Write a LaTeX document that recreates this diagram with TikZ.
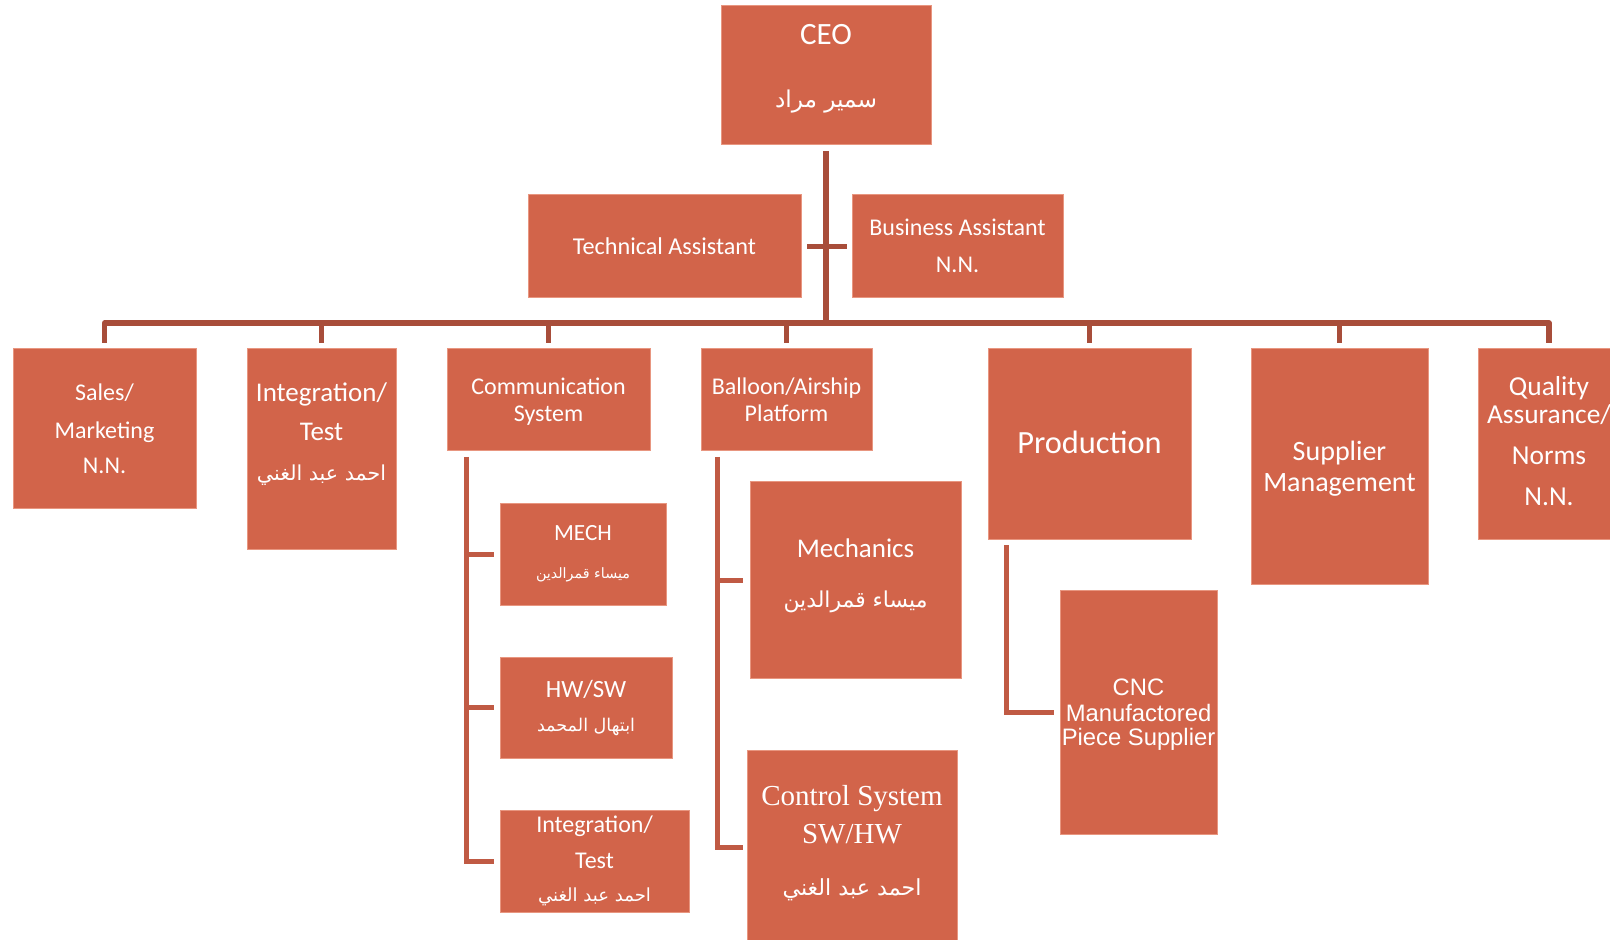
\documentclass[tikz,border=0pt]{standalone}
\usepackage{fontspec}
\setmainfont{Carlito}
\newfontfamily\arabicfont[Script=Arabic]{DejaVu Sans}
\newfontfamily\seriffont{Liberation Serif}
\newfontfamily\arialfont{Liberation Sans}
\TeXXeTstate=1
\definecolor{boxfill}{RGB}{210,100,74}
\definecolor{boxedge}{RGB}{232,150,128}
\definecolor{topline}{RGB}{168,77,58}
\definecolor{subline}{RGB}{192,90,68}
\newcommand{\fs}[1]{\fontsize{#1}{#1}\selectfont}
\tikzset{
  orgbox/.style={fill=boxfill, draw=boxedge, line width=0.5pt, inner sep=0pt, outer sep=0pt},
  lbl/.style={text=white, inner sep=0pt, outer sep=0pt, anchor=base},
  arlbl/.style={text=white, inner sep=0pt, outer sep=0pt, anchor=center},
  mainconn/.style={draw=topline, line width=2.6pt},
  subconn/.style={draw=subline, line width=2.5pt},
}
\begin{document}
\begin{tikzpicture}[x=0.5pt,y=-0.5pt]
\useasboundingbox (0,0) rectangle (1610,940);
% ---------- boxes ----------
\node[orgbox, minimum width=105pt, minimum height=69.5pt] (ceo) at (826,75.5) {};
\node[orgbox, minimum width=136.5pt, minimum height=51.5pt] (tech) at (664.5,246.5) {};
\node[orgbox, minimum width=105.5pt, minimum height=51.5pt] (bus) at (957.5,246.5) {};
\node[orgbox, minimum width=91.5pt, minimum height=79.5pt] (sales) at (104.5,428.5) {};
\node[orgbox, minimum width=74.5pt, minimum height=100pt] (integ) at (321.5,449) {};
\node[orgbox, minimum width=101.5pt, minimum height=51pt] (comm) at (548.5,400) {};
\node[orgbox, minimum width=85.5pt, minimum height=51pt] (ball) at (786.5,400) {};
\node[orgbox, minimum width=101.5pt, minimum height=95pt] (prod) at (1089.5,444) {};
\node[orgbox, minimum width=88.5pt, minimum height=117.5pt] (supp) at (1339.5,466.5) {};
\node[orgbox, minimum width=71pt, minimum height=95pt] (qual) at (1549,444) {};
\node[orgbox, minimum width=83pt, minimum height=51pt] (mech) at (583,554) {};
\node[orgbox, minimum width=86pt, minimum height=50.5pt] (hwsw) at (586,707.5) {};
\node[orgbox, minimum width=94.5pt, minimum height=51pt] (intsub) at (594.5,861) {};
\node[orgbox, minimum width=105.5pt, minimum height=98pt] (mechs) at (855.5,580) {};
\node[orgbox, minimum width=105pt, minimum height=97.5pt] (ctrl) at (852,847.5) {};
\node[orgbox, minimum width=78.5pt, minimum height=122pt] (cnc) at (1138.5,712) {};
% ---------- texts ----------
\node[lbl, font=\fs{15.5}] (ceo1) at (826,45) {CEO};
\node[arlbl] (ceo2) at (826,102) {\resizebox{51pt}{!}{\arabicfont\beginR سمير مراد\endR}};
\node[lbl, font=\fs{12.1}] (tech1) at (664.5,254.8) {Technical Assistant};
\node[lbl, font=\fs{12}] (bus1) at (957.5,235.7) {Business Assistant};
\node[lbl, font=\fs{12}] (bus2) at (957.5,272.7) {N.N.};
\node[lbl, font=\fs{12}] (sales1) at (104.5,400.7) {Sales/};
\node[lbl, font=\fs{12}] (sales2) at (104.5,438.7) {Marketing};
\node[lbl, font=\fs{12}] (sales3) at (104.5,473.7) {N.N.};
\node[lbl, font=\fs{13.5}] (integ1) at (321.5,401.7) {Integration/};
\node[lbl, font=\fs{13.5}] (integ2) at (321.5,440.7) {Test};
\node[arlbl] (integ3) at (321.5,475) {\resizebox{64.5pt}{!}{\arabicfont\beginR احمد عبد الغني\endR}};
\node[lbl, font=\fs{12}] (comm1) at (548.5,394.7) {Communication};
\node[lbl, font=\fs{12}] (comm2) at (548.5,421.7) {System};
\node[lbl, font=\fs{12}] (ball1) at (786.5,394.7) {Balloon/Airship};
\node[lbl, font=\fs{12}] (ball2) at (786.5,421.7) {Platform};
\node[lbl, font=\fs{16.2}] (prod1) at (1089.5,453.4) {Production};
\node[lbl, font=\fs{14}] (supp1) at (1339.5,461) {Supplier};
\node[lbl, font=\fs{14}] (supp2) at (1339.5,492) {Management};
\node[lbl, font=\fs{13.7}] (qual1) at (1549,395.8) {Quality};
\node[lbl, font=\fs{13.7}] (qual2) at (1549,423.8) {Assurance/};
\node[lbl, font=\fs{13.7}] (qual3) at (1549,464.8) {Norms};
\node[lbl, font=\fs{13.7}] (qual4) at (1549,505.8) {N.N.};
\node[lbl, font=\fs{11.6}] (mech1) at (583,540.5) {MECH};
\node[arlbl] (mech2) at (583,575) {\resizebox{47pt}{!}{\arabicfont\beginR ميساء قمرالدين\endR}};
\node[lbl, font=\fs{12.4}] (hwsw1) at (586,697) {HW/SW};
\node[arlbl] (hwsw2) at (586,727) {\resizebox{49pt}{!}{\arabicfont\beginR ابتهال المحمد\endR}};
\node[lbl, font=\fs{12}] (intsub1) at (594.5,832.7) {Integration/};
\node[lbl, font=\fs{12}] (intsub2) at (594.5,868.7) {Test};
\node[arlbl] (intsub3) at (594.5,897) {\resizebox{56.5pt}{!}{\arabicfont\beginR احمد عبد الغني\endR}};
\node[lbl, font=\fs{13.5}] (mechs1) at (855.5,557.7) {Mechanics};
\node[arlbl] (mechs2) at (855.5,602) {\resizebox{72pt}{!}{\arabicfont\beginR ميساء قمرالدين\endR}};
\node[lbl, font=\seriffont\fs{14.5}] (ctrl1) at (852,805.6) {Control System};
\node[lbl, font=\seriffont\fs{14.5}] (ctrl2) at (852,843.6) {SW/HW};
\node[arlbl] (ctrl3) at (852,890) {\resizebox{69.5pt}{!}{\arabicfont\beginR احمد عبد الغني\endR}};
\node[lbl, font=\arialfont\fs{11.9}] (cnc1) at (1138.5,695.5) {CNC};
\node[lbl, font=\arialfont\fs{11.9}] (cnc2) at (1138.5,721.5) {Manufactored};
\node[lbl, font=\arialfont\fs{11.9}] (cnc3) at (1138.5,745.5) {Piece Supplier};
% ---------- top connectors ----------
\coordinate (bar) at (827,323);
\draw[mainconn] ([yshift=-3pt]ceo.south) -- (ceo.south |- bar);
\draw[mainconn] ([xshift=3pt]tech.east) -- ([xshift=-2.5pt]bus.west);
\draw[mainconn, line join=round] ([yshift=3pt]sales.north) -- (sales.north |- bar) -- (qual.north |- bar) -- ([yshift=3pt]qual.north);
\foreach \b in {integ,comm,ball,prod,supp}
  \draw[mainconn] (\b.north |- bar) -- ([yshift=3pt]\b.north);
% ---------- sub connectors ----------
\coordinate (cspine) at ([xshift=9.5pt,yshift=-3pt]comm.south west);
\draw[subconn] (cspine) |- ([xshift=-3pt]intsub.west);
\draw[subconn] (cspine |- mech.west) -- ([xshift=-3pt]mech.west);
\draw[subconn] (cspine |- hwsw.west) -- ([xshift=-3pt]hwsw.west);
\coordinate (bspine) at ([xshift=8.3pt,yshift=-3pt]ball.south west);
\draw[subconn] (bspine) |- ([xshift=-2pt]ctrl.west);
\draw[subconn] (bspine |- mechs.west) -- ([xshift=-3.5pt]mechs.west);
\coordinate (pspine) at ([xshift=9.3pt,yshift=-3pt]prod.south west);
\draw[subconn] (pspine) |- ([xshift=-3pt]cnc.west);
\end{tikzpicture}
\end{document}
